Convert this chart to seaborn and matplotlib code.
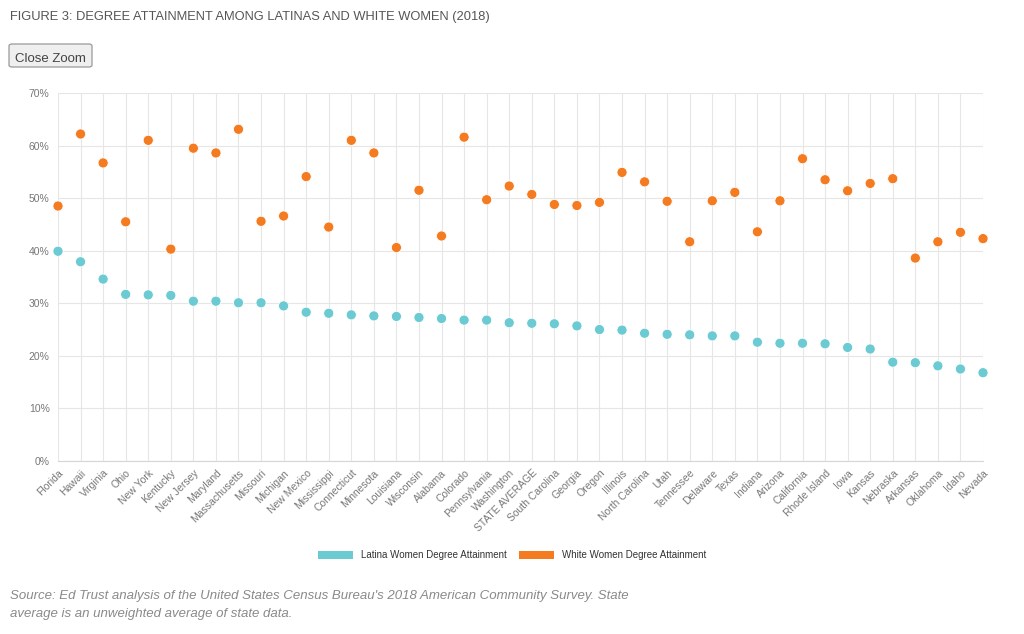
import pandas as pd
import matplotlib.pyplot as plt
import seaborn as sns
from matplotlib.patches import Patch, FancyBboxPatch
from matplotlib.ticker import FuncFormatter

# ------------------------
# Data
# ------------------------
states = [
    "Florida", "Hawaii", "Virginia", "Ohio", "New York", "Kentucky", "New Jersey",
    "Maryland", "Massachusetts", "Missouri", "Michigan", "New Mexico", "Mississippi",
    "Connecticut", "Minnesota", "Louisiana", "Wisconsin", "Alabama", "Colorado",
    "Pennsylvania", "Washington", "STATE AVERAGE", "South Carolina", "Georgia",
    "Oregon", "Illinois", "North Carolina", "Utah", "Tennessee", "Delaware", "Texas",
    "Indiana", "Arizona", "California", "Rhode Island", "Iowa", "Kansas", "Nebraska",
    "Arkansas", "Oklahoma", "Idaho", "Nevada",
]
latina = [
    39.9, 37.9, 34.6, 31.7, 31.6, 31.5, 30.4, 30.4, 30.1, 30.1, 29.5, 28.3, 28.1,
    27.8, 27.6, 27.5, 27.3, 27.1, 26.8, 26.8, 26.3, 26.2, 26.1, 25.7, 25.0, 24.9,
    24.3, 24.1, 24.0, 23.8, 23.8, 22.6, 22.4, 22.4, 22.3, 21.6, 21.3, 18.8, 18.7,
    18.1, 17.5, 16.8,
]
white = [
    48.5, 62.2, 56.7, 45.5, 61.0, 40.3, 59.5, 58.6, 63.1, 45.6, 46.6, 54.1, 44.5,
    61.0, 58.6, 40.6, 51.5, 42.8, 61.6, 49.7, 52.3, 50.7, 48.8, 48.6, 49.2, 54.9,
    53.1, 49.4, 41.7, 49.5, 51.1, 43.6, 49.5, 57.5, 53.5, 51.4, 52.8, 53.7, 38.6,
    41.7, 43.5, 42.3,
]
series_names = ["Latina Women Degree Attainment", "White Women Degree Attainment"]
colors = ["#6ccbd2", "#f47b20"]

df = pd.concat([
    pd.DataFrame({"state": states, "value": latina, "series": series_names[0]}),
    pd.DataFrame({"state": states, "value": white, "series": series_names[1]}),
])

# ------------------------
# Plot
# ------------------------
sns.set_style("white")
plt.rcParams["font.family"] = ["Liberation Sans", "DejaVu Sans"]

W, H = 1024, 634
fig = plt.figure(figsize=(W / 100, H / 100), dpi=100)
ax = fig.add_axes([58 / W, 1 - 461 / H, (983 - 58) / W, (461 - 93) / H])

sns.stripplot(data=df, x="state", y="value", hue="series", order=states,
              hue_order=series_names, palette=colors, jitter=False, dodge=False,
              size=7.3, linewidth=0.6, edgecolor="white", ax=ax, legend=False,
              zorder=3, clip_on=False)

ax.set_xlim(0, len(states) - 1)
ax.set_ylim(0, 70)
ax.set_yticks(range(0, 71, 10))
ax.yaxis.set_major_formatter(FuncFormatter(lambda v, _: f"{v:.0f}%"))
ax.set_xlabel("")
ax.set_ylabel("")
ax.grid(True, color="#e6e6e6", linewidth=0.8, zorder=0)
ax.set_axisbelow(True)
for side in ["top", "right", "left"]:
    ax.spines[side].set_visible(False)
ax.spines["bottom"].set_color("#d6d6d6")
ax.tick_params(axis="y", length=0, labelsize=7.5, labelcolor="#777777", pad=6)
ax.tick_params(axis="x", length=4, color="#e0e0e0", labelsize=7.5,
               labelcolor="#777777", pad=1)
plt.setp(ax.get_xticklabels(), rotation=45, ha="right", rotation_mode="anchor")

# title
fig.text(10 / W, 1 - 17 / H, "FIGURE 3: DEGREE ATTAINMENT AMONG LATINAS AND WHITE WOMEN (2018)",
         fontsize=9.3, color="#555555", va="center", ha="left")

# "Close Zoom" button
fig.patches.append(FancyBboxPatch((9 / W, 1 - 67 / H), 83 / W, 23 / H,
                                  boxstyle="round,pad=0,rounding_size=0.003",
                                  transform=fig.transFigure, facecolor="#efefef",
                                  edgecolor="#999999", linewidth=0.9))
fig.text(50.5 / W, 1 - 62 / H, "Close Zoom", fontsize=9.5, color="#444444",
         va="baseline", ha="center")

# legend
handles = [Patch(facecolor=c, edgecolor="none") for c in colors]
fig.legend(handles, series_names, loc="center", bbox_to_anchor=(512 / W, 1 - 555 / H),
           ncol=2, frameon=False, fontsize=7, handlelength=3.6, handleheight=0.9,
           handletextpad=0.8, columnspacing=1.3, labelcolor="#333333")

# source note
fig.text(10 / W, 1 - 596 / H,
         "Source: Ed Trust analysis of the United States Census Bureau's 2018 American Community Survey. State",
         fontsize=9.5, color="#8a8a8a", style="italic", va="center", ha="left")
fig.text(10 / W, 1 - 614 / H, "average is an unweighted average of state data.",
         fontsize=9.5, color="#8a8a8a", style="italic", va="center", ha="left")

fig.savefig("out.png", dpi=100)
plt.close(fig)
